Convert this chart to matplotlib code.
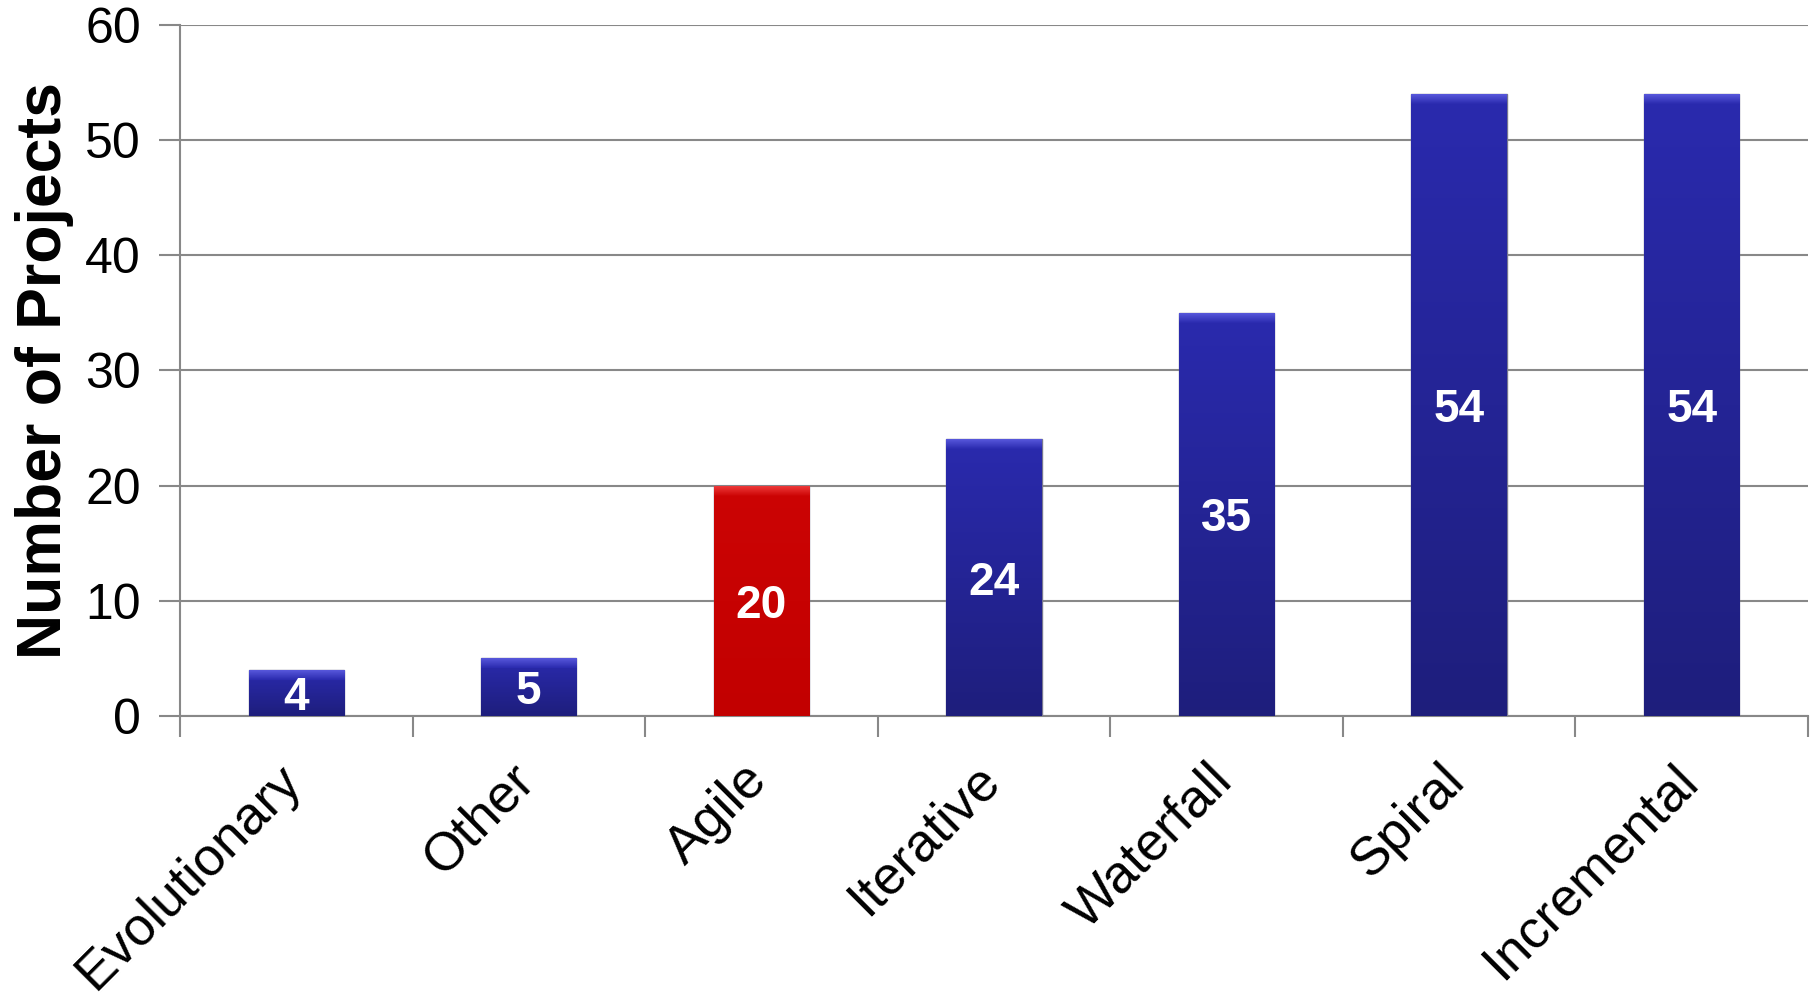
import numpy as np
import matplotlib.pyplot as plt
from matplotlib.colors import LinearSegmentedColormap
from matplotlib.transforms import ScaledTranslation

plt.rcParams['font.family'] = ['Liberation Sans', 'DejaVu Sans']

categories = ['Evolutionary', 'Other', 'Agile', 'Iterative', 'Waterfall', 'Spiral', 'Incremental']
counts = [4, 5, 20, 24, 35, 54, 54]
highlight = 'Agile'

blue_top, blue_bot, blue_bev = '#2A2AAE', '#1E1E7C', '#5858DC'
red_top, red_bot, red_bev = '#CC0404', '#C20000', '#EE3A3A'

fig = plt.figure(figsize=(18.14, 9.97), dpi=100)
ax = fig.add_axes([0.0992, 0.282, 0.8975, 0.693])
ax.set_xlim(-0.5, len(categories) - 0.5)
ax.set_ylim(0, 60)

x = np.arange(len(categories))
colors = [red_top if c == highlight else blue_top for c in categories]
bars = ax.bar(x, counts, width=0.41, color=colors, edgecolor='#77778f', linewidth=1.0, zorder=3)

# about 10 px of bevel at the top of each bar, in data units
px_per_unit = (ax.transData.transform((0, 1))[1] - ax.transData.transform((0, 0))[1])
bev = 10 / px_per_unit

grad = np.linspace(0, 1, 256).reshape(-1, 1)
for b, c in zip(bars, categories):
    if c == highlight:
        cmap = LinearSegmentedColormap.from_list('r', [red_bot, red_top])
        bev_c = red_bev
    else:
        cmap = LinearSegmentedColormap.from_list('b', [blue_bot, blue_top])
        bev_c = blue_bev
    x0, y0, w, h = b.get_x(), b.get_y(), b.get_width(), b.get_height()
    im = ax.imshow(grad, cmap=cmap, aspect='auto', origin='lower',
                   extent=[x0, x0 + w, y0, y0 + h], zorder=3.5)
    im.set_clip_path(b)
    bcmap = LinearSegmentedColormap.from_list('bev', [cmap(1.0), bev_c])
    im2 = ax.imshow(grad, cmap=bcmap, aspect='auto', origin='lower',
                    extent=[x0, x0 + w, y0 + h - bev, y0 + h], zorder=3.6)
    im2.set_clip_path(b)
    ax.text(x0 + w / 2, h / 2, str(int(h)), ha='center', va='center_baseline',
            color='white', fontsize=33, fontweight='bold', zorder=5)

ax.set_yticks(range(0, 61, 10))
ax.tick_params(axis='y', labelsize=36, length=15, width=1.5, color='#888888', pad=13)
ax.set_xticks(x)
ax.set_xticklabels(categories, rotation=45, ha='right', va='top', rotation_mode='anchor', fontsize=38.5)
ax.tick_params(axis='x', length=0, pad=28)
shift = ScaledTranslation(-0.2, 0, fig.dpi_scale_trans)
for lab in ax.get_xticklabels():
    lab.set_transform(lab.get_transform() + shift)
# category separator ticks
ax.set_xticks(np.arange(-0.5, len(categories), 1), minor=True)
ax.tick_params(axis='x', which='minor', length=15, width=1.5, color='#888888')

ax.grid(axis='y', color='#888888', linewidth=1.5, zorder=0)
ax.set_axisbelow(True)
for s in ['top', 'right']:
    ax.spines[s].set_visible(False)
ax.spines['left'].set_color('#888888')
ax.spines['left'].set_linewidth(1.5)
ax.spines['bottom'].set_color('#888888')
ax.spines['bottom'].set_linewidth(1.5)

ax.set_ylabel('Number of Projects', fontsize=45, fontweight='bold')
ax.yaxis.set_label_coords(-0.065, 0.5)

fig.savefig('out.png', dpi=100)
